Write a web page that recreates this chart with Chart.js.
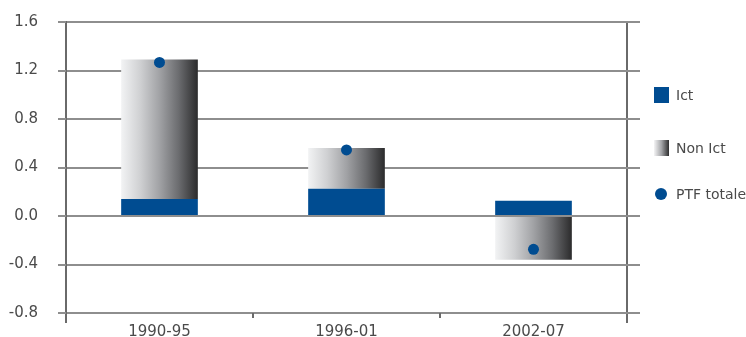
<!DOCTYPE html>
<html>
<head>
<meta charset="utf-8">
<script src="https://cdn.jsdelivr.net/npm/chart.js@4"></script>
<style>
  html, body { margin: 0; padding: 0; background: #ffffff; }
  #wrap { position: relative; width: 746px; height: 337px; }
  canvas { position: absolute; left: 0; top: 0; }
  .leg { position: absolute; left: 676px; font-family: "DejaVu Sans", sans-serif; font-size: 14px; color: #4a4a4a; line-height: 16px; white-space: nowrap; }
  .sw { position: absolute; }
</style>
</head>
<body>
<div id="wrap">
  <canvas id="c" width="746" height="337"></canvas>
  <div class="sw" style="left:654px;top:87px;width:15px;height:16px;background:#004c91;"></div>
  <div class="leg" style="top:87px;">Ict</div>
  <div class="sw" style="left:654px;top:140px;width:15px;height:16px;background:linear-gradient(to right,#f4f4f5,#a3a4a7 50%,#2e2e2f);"></div>
  <div class="leg" style="top:140px;">Non Ict</div>
  <div class="sw" style="left:655px;top:188px;width:12px;height:12px;border-radius:50%;background:#004c91;"></div>
  <div class="leg" style="top:186px;">PTF totale</div>
</div>
<script>
const categories = ['1990-95', '1996-01', '2002-07'];
const ictValues = [0.14, 0.225, 0.125];
const nonIctValues = [1.15, 0.335, -0.36];
const ptfValues = [1.267, 0.545, -0.275];
const yTickValues = [-0.8, -0.4, 0.0, 0.4, 0.8, 1.2, 1.6];

const BLUE = '#004c91';
const GRID = '#8e8e8e';
const AXIS = '#6a6a6a';
const BAR_PCT = 0.41;

function nonIctGradient(ctx) {
  const chart = ctx.chart;
  if (!chart.chartArea || !chart.scales.x) return '#999999';
  const x = chart.scales.x;
  const c = x.getPixelForValue(ctx.dataIndex);
  const w = (x.width / categories.length) * BAR_PCT;
  const g = chart.ctx.createLinearGradient(c - w / 2, 0, c + w / 2, 0);
  g.addColorStop(0, '#f2f3f4');
  g.addColorStop(0.25, '#cfd0d2');
  g.addColorStop(0.5, '#a1a2a5');
  g.addColorStop(0.75, '#6b6c6f');
  g.addColorStop(1, '#2b2b2c');
  return g;
}

const extras = {
  id: 'extras',
  afterDraw(chart) {
    const { ctx, chartArea, scales: { x, y } } = chart;
    ctx.save();
    ctx.strokeStyle = GRID;
    ctx.lineWidth = 2;
    y.ticks.forEach(t => {
      const py = Math.round(y.getPixelForValue(t.value));
      ctx.beginPath();
      ctx.moveTo(chartArea.right, py);
      ctx.lineTo(chartArea.right + 13, py);
      ctx.moveTo(chartArea.left - 8, py);
      ctx.lineTo(chartArea.left, py);
      ctx.stroke();
    });
    ctx.strokeStyle = AXIS;
    for (let i = 1; i < categories.length; i++) {
      const bx = Math.round((x.getPixelForValue(i - 1) + x.getPixelForValue(i)) / 2);
      ctx.beginPath();
      ctx.moveTo(bx, chartArea.bottom);
      ctx.lineTo(bx, chartArea.bottom + 5);
      ctx.stroke();
    }
    ctx.restore();
  }
};

new Chart(document.getElementById('c'), {
  type: 'bar',
  data: {
    labels: categories,
    datasets: [
      {
        type: 'line',
        label: 'PTF totale',
        data: ptfValues,
        showLine: false,
        stack: 'pts',
        pointRadius: 5.5,
        pointHoverRadius: 5.5,
        pointBackgroundColor: BLUE,
        pointBorderWidth: 0,
        borderColor: BLUE,
        order: 0
      },
      {
        label: 'Ict',
        data: ictValues,
        backgroundColor: BLUE,
        stack: 'bars',
        order: 1,
        categoryPercentage: 1,
        barPercentage: BAR_PCT
      },
      {
        label: 'Non Ict',
        data: nonIctValues,
        backgroundColor: nonIctGradient,
        stack: 'bars',
        order: 1,
        categoryPercentage: 1,
        barPercentage: BAR_PCT
      }
    ]
  },
  options: {
    responsive: false,
    animation: false,
    events: [],
    layout: { padding: { top: 22, right: 119, bottom: 0, left: 0 } },
    plugins: { legend: { display: false }, tooltip: { enabled: false } },
    scales: {
      x: {
        stacked: true,
        afterFit(s) { s.height = 24; },
        grid: {
          offset: true,
          lineWidth: 2,
          tickLength: 10,
          color: c => (c.index === 0 || c.type === 'scale') ? AXIS : 'rgba(0,0,0,0)',
          tickColor: c => (c.index === 0 || c.type === 'scale') ? AXIS : 'rgba(0,0,0,0)'
        },
        border: { display: true, color: GRID, width: 2 },
        ticks: {
          color: '#4a4a4a',
          padding: 0,
          font: { family: 'DejaVu Sans', size: 15 }
        }
      },
      y: {
        stacked: true,
        min: -0.8,
        max: 1.6,
        afterFit(s) { s.width = 66; },
        afterBuildTicks(s) { s.ticks = yTickValues.map(v => ({ value: v })); },
        grid: { color: GRID, lineWidth: 2, tickLength: 28, tickColor: 'rgba(0,0,0,0)' },
        border: { display: true, color: AXIS, width: 2 },
        ticks: {
          color: '#4a4a4a',
          padding: 0,
          font: { family: 'DejaVu Sans', size: 15 },
          callback: v => Number(v).toFixed(1)
        }
      }
    }
  },
  plugins: [extras]
});
</script>
</body>
</html>
